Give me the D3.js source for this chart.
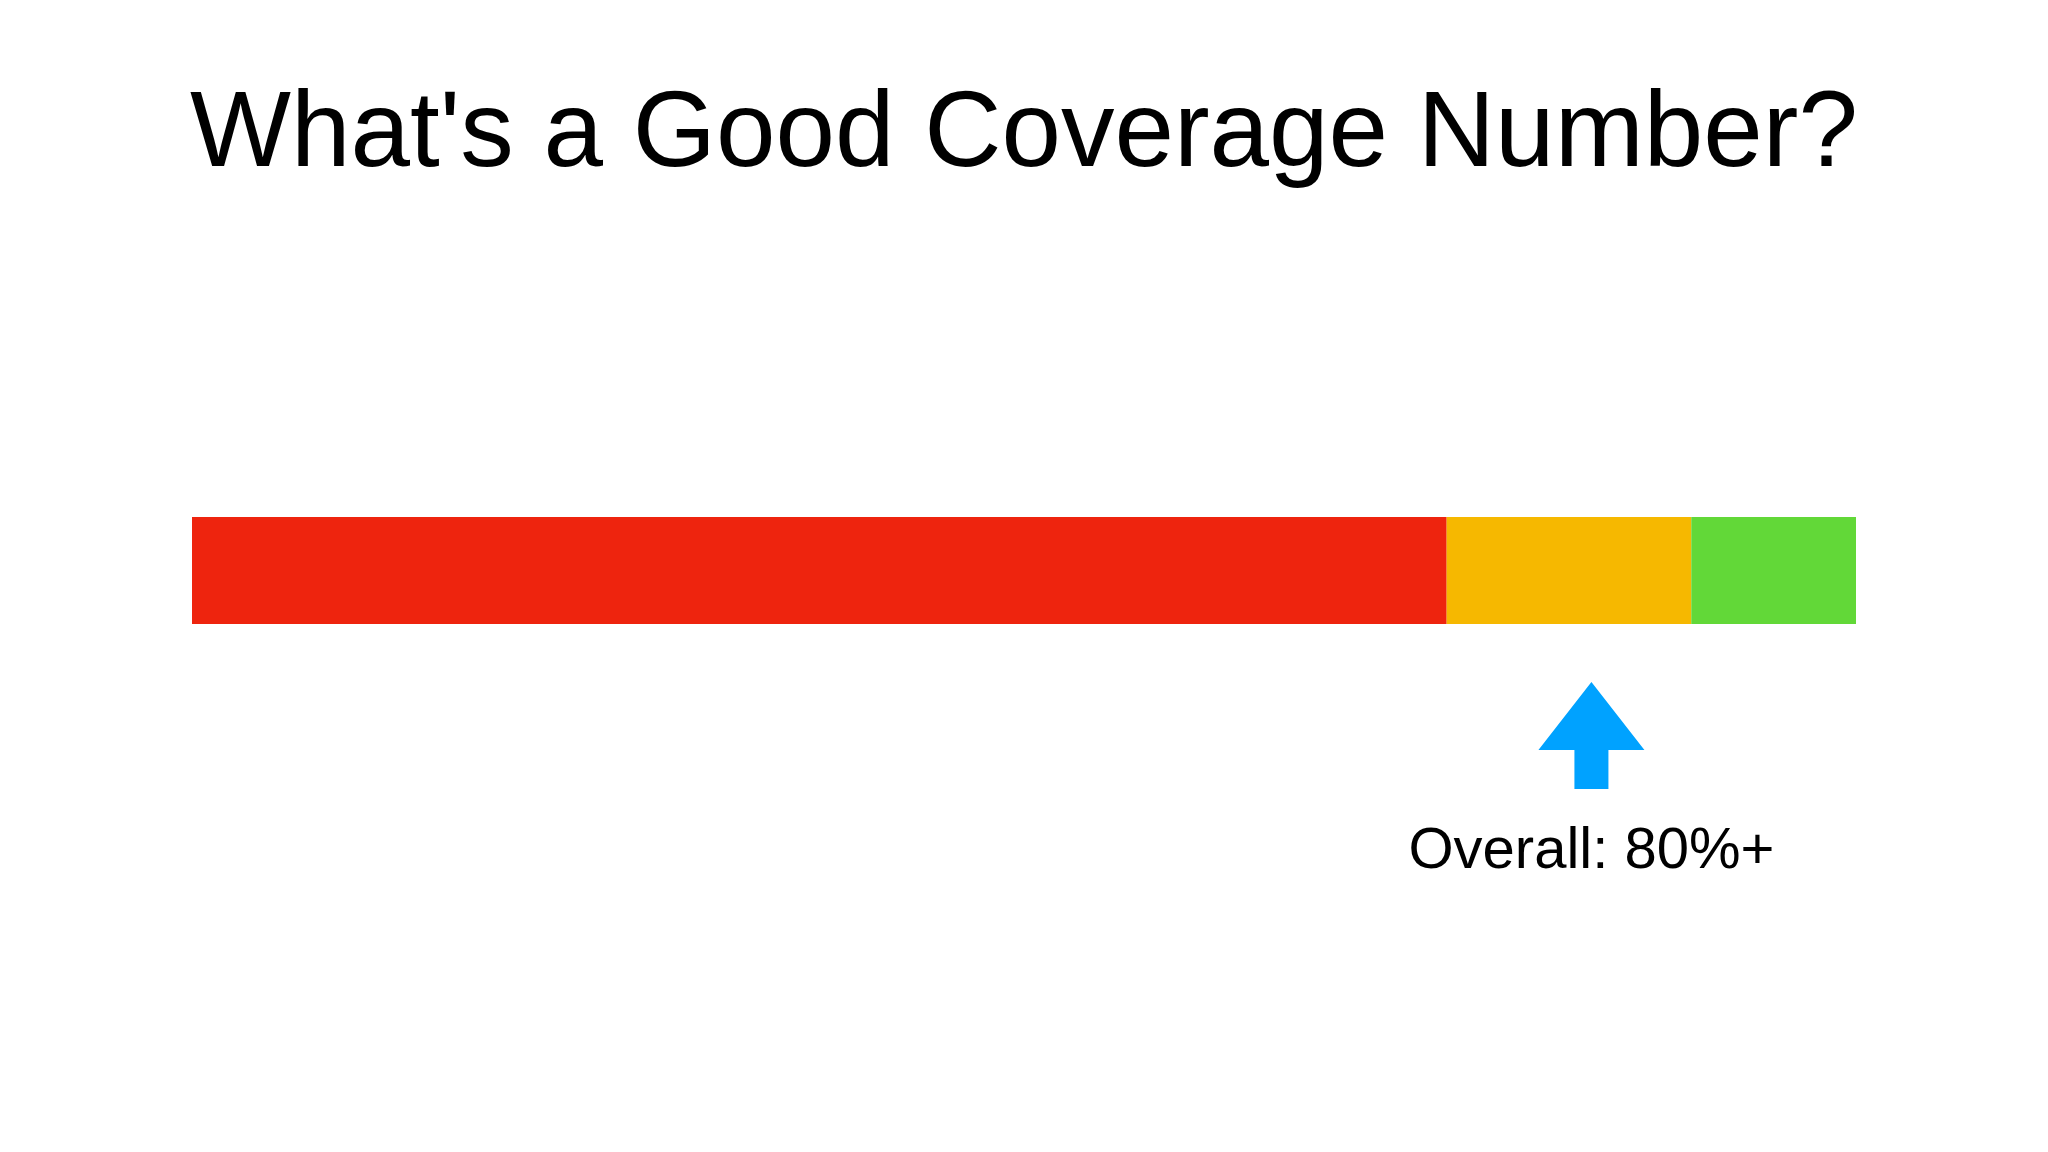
<!DOCTYPE html>
<html><head><meta charset="utf-8">
<script src="https://cdn.jsdelivr.net/npm/d3@7"></script>
<style>body{margin:0;background:#fff}text{font-family:"Liberation Sans",Arial,sans-serif}</style>
</head><body>
<svg width="2048" height="1152"></svg>
<script>
const title = "What's a Good Coverage Number?";
const segments = ['bad', 'ok', 'good'];
const segStart = [0, 75.4, 90.1];
const segEnd = [75.4, 90.1, 100];
const segColors = ['#EE240E', '#F6B800', '#62D838'];
const markerValue = 84.1;
const markerLabel = 'Overall: 80%+';

const svg = d3.select('svg');
const width = +svg.attr('width');

const x = d3.scaleLinear().domain([0, 100]).range([192, 1856]);
const barTop = 517, barH = 107;

svg.append('text')
  .attr('x', width / 2).attr('y', 166)
  .attr('text-anchor', 'middle')
  .attr('font-size', 107)
  .text(title);

svg.selectAll('rect.seg').data(segments).join('rect')
  .attr('class', 'seg')
  .attr('x', (d, i) => x(segStart[i]))
  .attr('width', (d, i) => x(segEnd[i]) - x(segStart[i]))
  .attr('y', barTop).attr('height', barH)
  .attr('fill', (d, i) => segColors[i]);

const cx = x(markerValue);
const arrow = d3.path();
arrow.moveTo(cx, 682);
arrow.lineTo(cx + 53, 750);
arrow.lineTo(cx + 17, 750);
arrow.lineTo(cx + 17, 789);
arrow.lineTo(cx - 17, 789);
arrow.lineTo(cx - 17, 750);
arrow.lineTo(cx - 53, 750);
arrow.closePath();
svg.append('path').attr('d', arrow.toString()).attr('fill', '#00A2FF');

svg.append('text')
  .attr('x', cx).attr('y', 868)
  .attr('text-anchor', 'middle')
  .attr('font-size', 58)
  .text(markerLabel);
</script>
</body></html>
